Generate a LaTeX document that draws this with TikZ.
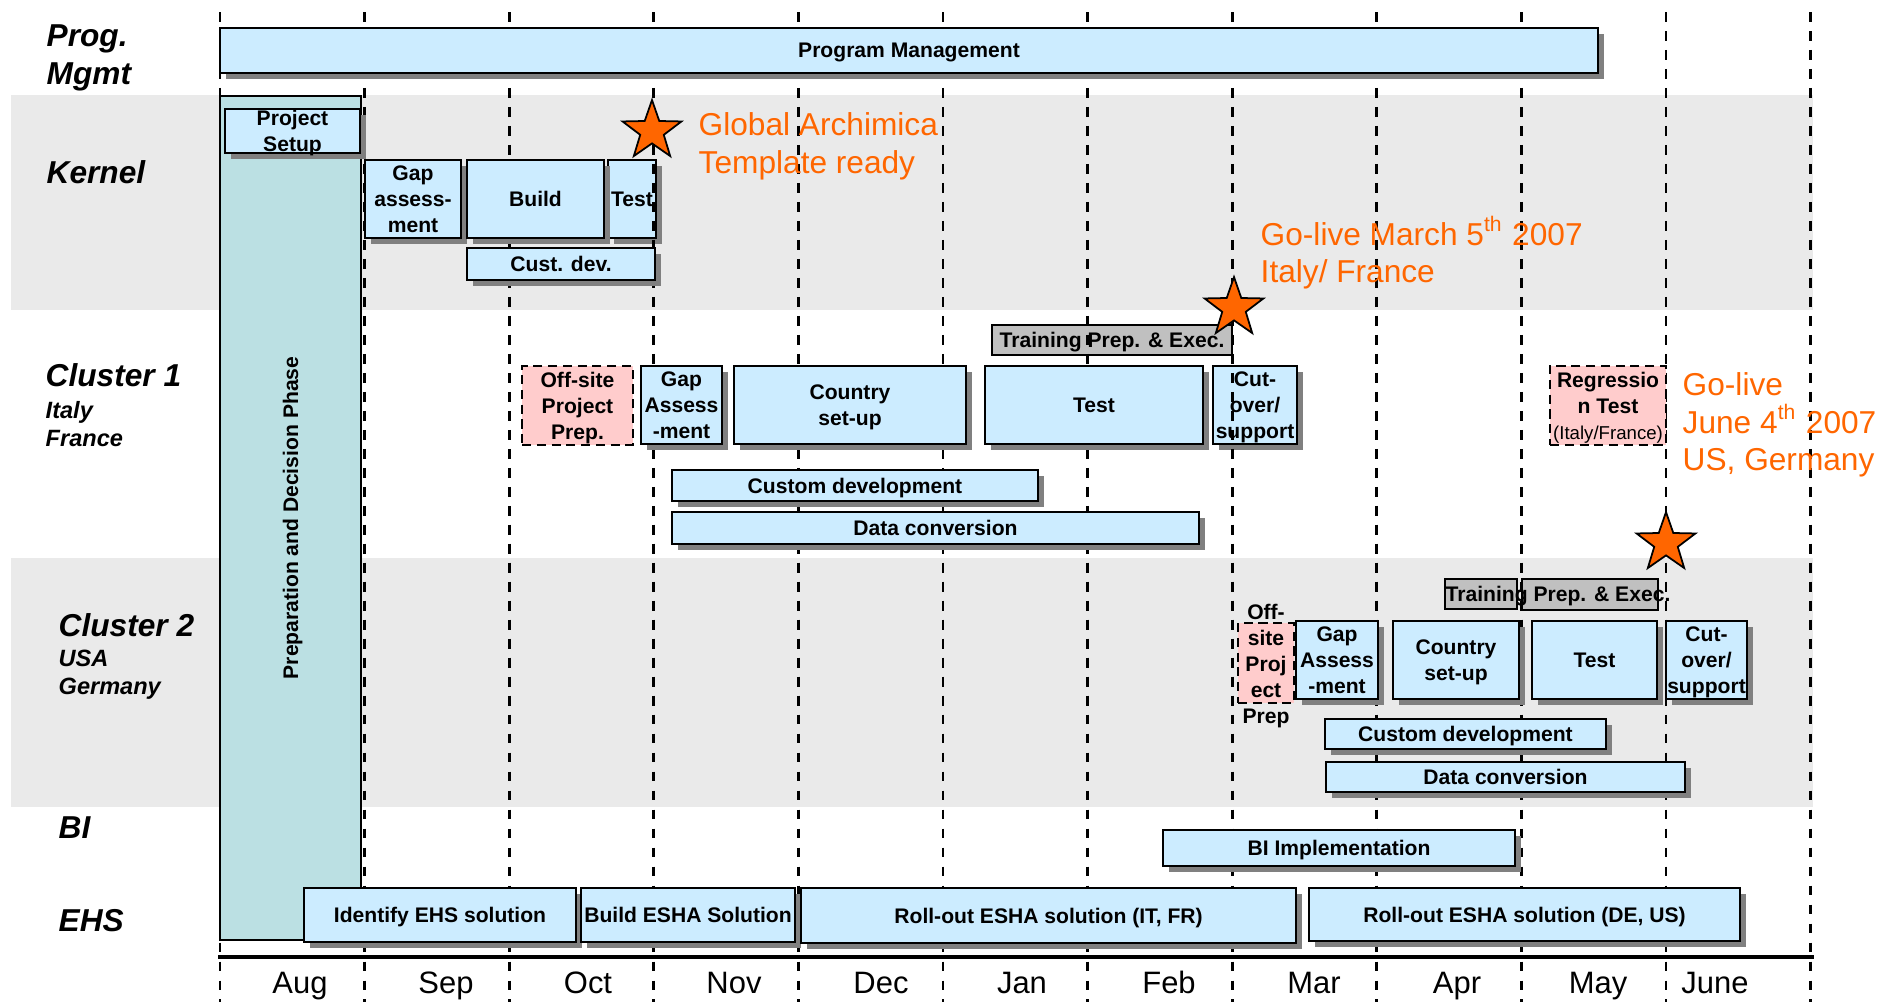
\documentclass[tikz,border=0pt]{standalone}
\usepackage{fontspec}
\setmainfont{Liberation Sans}
\usetikzlibrary{shapes.geometric,shadows,positioning}

\definecolor{taskblue}{HTML}{CCECFF}
\definecolor{prepteal}{HTML}{BBE0E3}
\definecolor{planpink}{HTML}{FFCCCC}
\definecolor{traingray}{HTML}{C0C0C0}
\definecolor{bandgray}{HTML}{EAEAEA}
\definecolor{golive}{HTML}{FF6600}

\tikzset{
  boxfont/.style = {font=\bfseries\fontsize{6}{7.4}\selectfont, text depth=0pt},
  task/.style = {draw, line width=0.5pt, fill=taskblue, inner sep=0pt, align=center, boxfont,
    drop shadow={fill=black!50, opacity=1, shadow xshift=1.6pt, shadow yshift=-1.6pt}},
  plan/.style = {draw, line width=0.8pt, dash pattern=on 2.6pt off 1.6pt, fill=planpink, inner sep=0pt, align=center, boxfont},
  training/.style = {draw, line width=0.5pt, fill=traingray, inner sep=0pt, boxfont},
  prepcol/.style = {draw, line width=0.5pt, fill=prepteal, inner sep=0pt},
  rowlabel/.style = {anchor=west, align=left, inner sep=0pt, font=\bfseries\itshape\fontsize{9}{10.8}\selectfont},
  sublabel/.style = {anchor=west, align=left, inner sep=0pt, font=\bfseries\itshape\fontsize{6.7}{7.9}\selectfont},
  note/.style = {anchor=west, align=left, inner sep=0pt, text=golive, font=\fontsize{9}{10.7}\selectfont},
  milestone/.style = {star, star points=5, star point ratio=2.5, draw, line width=0.5pt, fill=golive, minimum size=17.6pt, inner sep=0pt},
  month/.style = {anchor=base, inner sep=0pt, font=\fontsize{8.8}{10}\selectfont},
  monthline/.style = {line width=0.8pt, dash pattern=on 2.8pt off 2.6pt}
}

% box from (#3,#4) to (#5,#6), in pixels of the chart
\newcommand{\ganttbox}[7][task]{%
  \node [#1, minimum width={(#5-#3)*0.01cm}, minimum height={(#6-#4)*0.01cm}] (#2) at ({(#3+#5)/2},{(#4+#6)/2}) {#7};}

\begin{document}
\begin{tikzpicture}[x=0.01cm, y=-0.01cm]
  \useasboundingbox (0,0) rectangle (1894,1002);
  \fill [bandgray] (11,95) rectangle (1813,310);
  \fill [bandgray] (11,558) rectangle (1813,807);

  \ganttbox[prepcol]{prep}{220}{96}{361}{940}{}
  \node [rotate=90, inner sep=0pt, boxfont] (preptext) at (prep.center) {Preparation and Decision Phase};

  \ganttbox[training]{c1train}{992}{325}{1232}{355}{Training Prep. \& Exec.}
  \ganttbox{c1cut}{1213}{366}{1297}{444}{Cut-\\over/\\support}
  \ganttbox[training]{c2trainA}{1445}{579}{1517}{609}{}
  \ganttbox[training]{c2trainB}{1522}{579}{1658}{610}{}
  \ganttbox{ktest}{608}{160}{656}{238}{Test}

  \foreach \m in {0,...,11}
    \draw [monthline] (220+144.6*\m, 12) -- (220+144.6*\m, 1002);
  \draw [line width=1pt] (218,957) -- (1814,957);

  \node [rowlabel] (lprog) at (46,58) {Prog.\\Mgmt};
  \node [rowlabel] (lkernel) at (46,172) {Kernel};
  \node [rowlabel] (lc1) at (45,375) {Cluster 1};
  \node [sublabel] (lc1sub) at (45,424) {Italy\\France};
  \node [rowlabel] (lc2) at (58,625) {Cluster 2};
  \node [sublabel] (lc2sub) at (58,675) {USA\\Germany};
  \node [rowlabel] (lbi) at (58,828) {BI};
  \node [rowlabel] (lehs) at (58,921) {EHS};

  \ganttbox{pm}{220}{28}{1598}{73}{Program Management}

  \ganttbox{ksetup}{225}{109}{360}{153}{Project\\Setup}
  \ganttbox{kgap}{365}{160}{461}{238}{Gap\\assess-\\ment}
  \ganttbox{kbuild}{467}{160}{604}{238}{Build}
  \ganttbox{kcust}{467}{248}{655}{280}{Cust. dev.}

  \ganttbox[plan]{c1off}{522}{366}{633}{445}{Off-site\\Project\\Prep.}
  \ganttbox{c1gap}{641}{366}{722}{444}{Gap\\Assess\\-ment}
  \ganttbox{c1setup}{734}{366}{966}{444}{Country\\set-up}
  \ganttbox{c1test}{985}{366}{1203}{444}{Test}
  \ganttbox{c1dev}{672}{470}{1038}{501}{Custom development}
  \ganttbox{c1data}{672}{512}{1199}{544}{Data conversion}
  \ganttbox[plan]{c1reg}{1550}{366}{1666}{445}{Regressio\\n Test\\{\mdseries\fontsize{5.3}{6}\selectfont(Italy/France)}}

  \node [boxfont, inner sep=0pt] (c2traintext) at (1558,594) {Training Prep. \& Exec.};
  \ganttbox[plan]{c2off}{1238}{623}{1294}{703}{}
  \node [boxfont, align=center, inner sep=0pt] (c2offtext) at (1266,664) {Off-\\site\\Proj\\ect\\Prep};
  \ganttbox{c2gap}{1296}{621}{1378}{699}{Gap\\Assess\\-ment}
  \ganttbox{c2setup}{1393}{621}{1519}{699}{Country\\set-up}
  \ganttbox{c2test}{1532}{621}{1657}{699}{Test}
  \ganttbox{c2cut}{1666}{621}{1747}{699}{Cut-\\over/\\support}
  \ganttbox{c2dev}{1325}{719}{1606}{749}{Custom development}
  \ganttbox{c2data}{1326}{762}{1685}{792}{Data conversion}

  \ganttbox{bi}{1163}{830}{1515}{866}{BI Implementation}

  \ganttbox{ehsid}{304}{888}{576}{942}{Identify EHS solution}
  \ganttbox{ehsbuild}{581}{888}{795}{942}{Build ESHA Solution}
  \ganttbox{ehsit}{801}{888}{1296}{943}{Roll-out ESHA solution (IT, FR)}
  \ganttbox{ehsde}{1309}{888}{1740}{941}{Roll-out ESHA solution (DE, US)}

  \node [milestone] (star1) at (652,131) {};
  \node [milestone] (star2) at (1234,308) {};
  \node [milestone] (star3) at (1666,543) {};
  \node [note] (note1) at (698,146) {Global Archimica\\Template ready};
  \node [note] (note2) at (1260,253) {Go-live March 5\textsuperscript{th} 2007\\Italy/ France};
  \node [note] (note3) at (1682,425) {Go-live\\June 4\textsuperscript{th} 2007\\US, Germany};

  \foreach \x/\mon in {300/Aug, 446/Sep, 588/Oct, 734/Nov, 881/Dec, 1022/Jan, 1169/Feb, 1314/Mar, 1457/Apr, 1598/May, 1715/June}
    \node [month] (m\mon) at (\x,993) {\mon};
\end{tikzpicture}
\end{document}
